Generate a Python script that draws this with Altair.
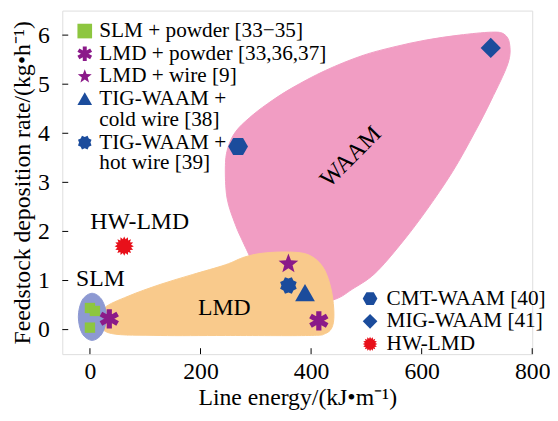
import math
import altair as alt
import pandas as pd

FONT = "Liberation Serif"

# ---------------- data ----------------
# legend group A (top-left)
namesA = ["SLM + powder [33−35]", "LMD + powder [33,36,37]", "LMD + wire [9]",
          "TIG-WAAM +|cold wire [38]", "TIG-WAAM +|hot wire [39]"]
colorsA = ["#8DC63F", "#8B1A89", "#8B1A89", "#1B4C9C", "#1B4C9C"]
sizesA = [110, 380, 440, 400, 330]

# legend group B (bottom-right)
namesB = ["CMT-WAAM [40]", "MIG-WAAM [41]", "HW-LMD"]
colorsB = ["#1B4C9C", "#1B4C9C", "#E8101A"]
sizesB = [400, 420, 380]

ptsA_series = ["SLM + powder [33−35]", "SLM + powder [33−35]", "SLM + powder [33−35]",
               "LMD + powder [33,36,37]", "LMD + powder [33,36,37]",
               "LMD + wire [9]", "TIG-WAAM +|cold wire [38]", "TIG-WAAM +|hot wire [39]"]
ptsA_x = [0, 9, 0, 35, 414, 359, 389, 359]
ptsA_y = [0.44, 0.38, 0.04, 0.22, 0.18, 1.34, 0.74, 0.90]

ptsB_series = ["CMT-WAAM [40]", "MIG-WAAM [41]", "HW-LMD"]
ptsB_x = [268, 725, 62]
ptsB_y = [3.73, 5.74, 1.70]

# region outlines (data units)
waam_x = [245, 250, 264, 289, 321, 365, 426, 492, 550, 608, 668, 726, 749, 759, 756, 726,
          696, 656, 608, 562, 515, 474, 444, 391, 321, 291, 277, 263, 248]
waam_y = [3.34, 3.72, 4.04, 4.32, 4.60, 4.92, 5.28, 5.58, 5.76, 5.90, 6.00, 6.06, 6.02, 5.82,
          5.42, 4.68, 4.02, 3.22, 2.42, 1.74, 1.14, 0.82, 0.62, 0.48, 0.68, 1.44, 1.78, 2.14, 2.68]

lmd_x = [18, 26, 69, 127, 185, 245, 280, 315, 361, 396, 421, 435, 441, 439, 426, 396, 245, 127, 39]
lmd_y = [0.14, 0.44, 0.68, 0.92, 1.12, 1.32, 1.48, 1.56, 1.58, 1.52, 1.28, 0.88, 0.42, 0.08,
         -0.08, -0.12, -0.12, -0.12, -0.08]

slm_x = [4, 22, 30, 22, 4, -14, -21, -14]
slm_y = [0.74, 0.60, 0.26, -0.08, -0.22, -0.08, 0.26, 0.60]

region_labels = ["WAAM", "LMD", "SLM", "HW-LMD"]
region_lab_x = [472, 243, 19, 90]
region_lab_y = [3.52, 0.44, 1.02, 2.20]
region_lab_angle = [315, 0, 0, 0]

x_ticks = [0, 200, 400, 600, 800]
y_ticks = [0, 1, 2, 3, 4, 5, 6]

W, H = 476, 348

# ---------------- marker shapes ----------------
def star_path(n, r_in, rot=-90.0):
    pts = []
    for k in range(2 * n):
        r = 1.0 if k % 2 == 0 else r_in
        a = math.radians(rot + 180.0 * k / n)
        pts.append(f"{r*math.cos(a):.3f},{r*math.sin(a):.3f}")
    return "M" + "L".join(pts) + "Z"

def poly_path(n, rot=0.0):
    pts = []
    for k in range(n):
        a = math.radians(rot + 360.0 * k / n)
        pts.append(f"{math.cos(a):.3f},{math.sin(a):.3f}")
    return "M" + "L".join(pts) + "Z"

def asterisk_path(hw=0.27):
    out = []
    for deg in (0, 60, 120):
        a = math.radians(deg)
        c, s = math.cos(a), math.sin(a)
        corners = [(-hw, -1), (hw, -1), (hw, 1), (-hw, 1)]
        pts = [f"{x*c - y*s:.3f},{x*s + y*c:.3f}" for x, y in corners]
        out.append("M" + "L".join(pts) + "Z")
    return "".join(out)

SQUARE = "M-1,-1L1,-1L1,1L-1,1Z"
TRI = "M0,-0.95L1,0.8L-1,0.8Z"
DIAMOND = "M0,-1L1,0L0,1L-1,0Z"
shapesA = [SQUARE, asterisk_path(), star_path(5, 0.42), TRI, star_path(8, 0.78, -90 + 22.5)]
shapesB = [poly_path(6, 0), DIAMOND, star_path(16, 0.72)]

# ---------------- chart ----------------
xscale = alt.Scale(domain=[-50, 800], nice=False, zero=False)
yscale = alt.Scale(domain=[-0.5, 6.5], nice=False, zero=False)

xaxis = alt.Axis(title="Line energy/(kJ•m⁻¹)", values=x_ticks, ticks=False, domain=False,
                 grid=False, labelFont=FONT, labelFontSize=24, labelColor="black",
                 labelFlush=False, labelPadding=6, titleFont=FONT, titleFontSize=24,
                 titleFontWeight="normal", titleColor="black", titlePadding=2)
yaxis = alt.Axis(title="Feedstock deposition rate/(kg•h⁻¹)", values=y_ticks, ticks=False,
                 domain=False, grid=False, labelFont=FONT, labelFontSize=24, labelColor="black",
                 labelFlush=False, labelPadding=13, titleFont=FONT, titleFontSize=24,
                 titleFontWeight="normal", titleColor="black", titlePadding=3)

def region(xs, ys, color):
    df = pd.DataFrame({"x": xs, "y": ys, "i": list(range(len(xs)))})
    return alt.Chart(df).mark_line(interpolate="cardinal-closed", fill=color, stroke=color,
                                   strokeWidth=1, filled=True).encode(
        x=alt.X("x:Q", scale=xscale, axis=xaxis),
        y=alt.Y("y:Q", scale=yscale, axis=yaxis),
        order=alt.Order("i:Q"),
    )

waam = region(waam_x, waam_y, "#F19DC3")
lmd = region(lmd_x, lmd_y, "#F9CA8C")
slm = region(slm_x, slm_y, "#8D99D2")

lab_df = pd.DataFrame({"t": region_labels, "x": region_lab_x, "y": region_lab_y,
                       "a": region_lab_angle})
labels = alt.Chart(lab_df).mark_text(font=FONT, fontSize=24, color="black").encode(
    x="x:Q", y="y:Q", text="t:N", angle=alt.Angle("a:Q", scale=None))

def legend(lx, ly, off):
    return alt.Legend(orient="none", legendX=lx, legendY=ly, title=None, padding=0,
                      labelFont=FONT, labelFontSize=21.5, labelColor="black", labelLimit=400,
                      labelOffset=off, symbolSize=220, symbolStrokeWidth=0, rowPadding=0,
                      labelExpr="split(datum.label, '|')",
                      symbolOpacity=1)

sizeA_map = dict(zip(namesA, sizesA))
dfA = pd.DataFrame({"s": ptsA_series, "x": ptsA_x, "y": ptsA_y,
                    "sz": [sizeA_map[s] for s in ptsA_series]})
legA = legend(12, 10, 4)
pointsA = alt.Chart(dfA).mark_point(filled=True, opacity=1, strokeWidth=0).encode(
    x="x:Q", y="y:Q",
    shape=alt.Shape("s:N", scale=alt.Scale(domain=namesA, range=shapesA), legend=legA),
    color=alt.Color("s:N", scale=alt.Scale(domain=namesA, range=colorsA), legend=legA),
    size=alt.Size("sz:Q", scale=None),
)

sizeB_map = dict(zip(namesB, sizesB))
dfB = pd.DataFrame({"s": ptsB_series, "x": ptsB_x, "y": ptsB_y,
                    "sz": [sizeB_map[s] for s in ptsB_series]})
legB = legend(301, 281, 6)
pointsB = alt.Chart(dfB).mark_point(filled=True, opacity=1, strokeWidth=0).encode(
    x="x:Q", y="y:Q",
    shape=alt.Shape("s:N", scale=alt.Scale(domain=namesB, range=shapesB), legend=legB),
    color=alt.Color("s:N", scale=alt.Scale(domain=namesB, range=colorsB), legend=legB),
    size=alt.Size("sz:Q", scale=None),
)

xt = alt.Chart(pd.DataFrame({"v": x_ticks})).mark_rule(color="black", strokeWidth=1).encode(
    x="v:Q", y=alt.value(H), y2=alt.value(H - 6))
yt = alt.Chart(pd.DataFrame({"v": y_ticks})).mark_rule(color="black", strokeWidth=1).encode(
    y="v:Q", x=alt.value(0), x2=alt.value(6))

chart = alt.layer(waam, lmd, slm, labels, xt, yt, pointsA, pointsB).resolve_scale(
    shape="independent", color="independent"
).properties(
    width=W, height=H, padding={"left": 3, "top": 0, "right": 0, "bottom": 0}
).configure_view(stroke="black", strokeWidth=1.3).configure(
    background="white", style={"guide-label": {"lineHeight": 21}}
)

chart.save("out.html", embed_options={"renderer": "svg", "actions": False})
